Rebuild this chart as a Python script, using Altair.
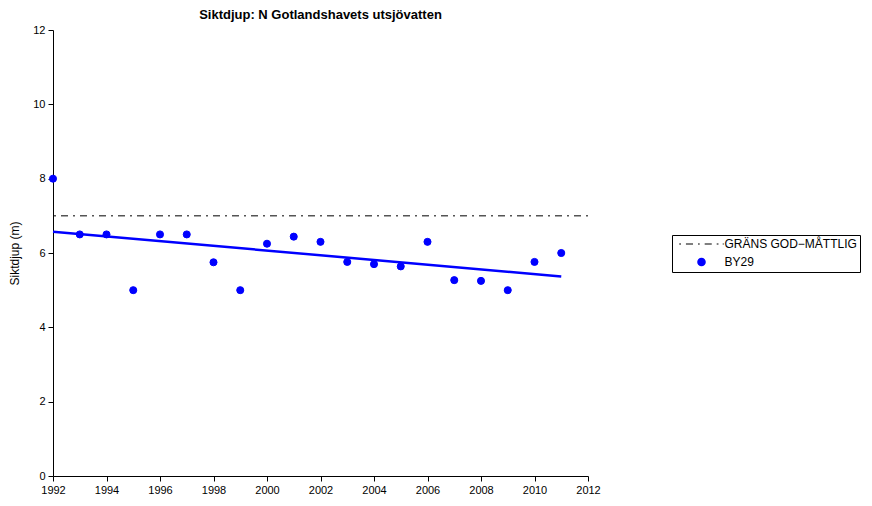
import altair as alt
import pandas as pd

years = list(range(1992, 2012))
sikt = [8.0, 6.5, 6.5, 5.0, 6.5, 6.5, 5.75, 5.0, 6.25, 6.44,
        6.3, 5.76, 5.7, 5.64, 6.3, 5.27, 5.25, 5.0, 5.76, 6.0]
station = "BY29"
grans_label = "GRÄNS GOD−MÅTTLIG"
grans_value = 7.0
x_ticks = list(range(1992, 2013, 2))
y_ticks = list(range(0, 13, 2))

df = pd.DataFrame({"year": years, "sikt": sikt, "serie": station})
ref = pd.DataFrame({"y": [grans_value]})

FONT = "Liberation Sans"
GRAY = "#555555"
BLUE = "#0000ff"

# dash-dot legend glyph as an SVG path (units scaled by sqrt(size)/2)
dashdot_path = ("M-6.3,0H-5.8M-4.4,0H-2.4M-1.0,0H-0.5"
                "M0.9,0H2.9M4.3,0H4.8M6.0,0H6.3")

dom = [grans_label, station]
color_scale = alt.Scale(domain=dom, range=[GRAY, BLUE])
shape_scale = alt.Scale(domain=dom, range=[dashdot_path, "circle"])

legend = alt.Legend(
    title=None, orient="none", legendX=619, legendY=205,
    strokeColor="black", padding=3, cornerRadius=0, rowPadding=5,
    labelFont=FONT, labelFontSize=12, labelColor="black",
    symbolSize=50, symbolStrokeWidth=1.5, symbolOffset=20.5, labelOffset=17,
    symbolOpacity=1,
)

xenc = alt.X("year:Q", scale=alt.Scale(domain=[1992, 2012], nice=False),
             axis=alt.Axis(values=x_ticks, format="d", title=None, grid=False,
                           tickSize=5, labelPadding=3, labelFlush=False))
yenc = alt.Y("sikt:Q", scale=alt.Scale(domain=[0, 12], nice=False),
             axis=alt.Axis(values=y_ticks, title="Siktdjup (m)", grid=False,
                           tickSize=5, labelPadding=3, titlePadding=11,
                           labelFlush=False))

rule = alt.Chart(ref).mark_rule(strokeDash=[2, 5, 7, 5], strokeWidth=1.5,
                                color=GRAY).encode(
    y=alt.Y("y:Q", scale=alt.Scale(domain=[0, 12], nice=False)),
)

trend = alt.Chart(df).transform_regression("year", "sikt").mark_line(
    color=BLUE, strokeWidth=2.5
).encode(
    x=alt.X("year:Q"), y=alt.Y("sikt:Q"),
)

points = alt.Chart(df).mark_point(size=50, filled=True, opacity=1,
                                  strokeWidth=1).encode(
    x=xenc, y=yenc,
    fill=alt.Fill("serie:N", scale=color_scale, legend=legend),
    stroke=alt.Stroke("serie:N", scale=color_scale, legend=legend),
    shape=alt.Shape("serie:N", scale=shape_scale, legend=legend),
)

chart = alt.layer(rule, trend, points).properties(
    width=535, height=446,
    title=alt.Title("Siktdjup: N Gotlandshavets utsjövatten", font=FONT,
                    fontSize=13, fontWeight="bold", color="black", offset=2),
    autosize=alt.AutoSizeParams(type="none"),
    padding={"left": 45, "top": 22, "right": 276, "bottom": 22},
).configure_axis(
    domainColor="black", tickColor="black", labelColor="black", titleColor="black",
    labelFont=FONT, titleFont=FONT, labelFontSize=11, titleFontSize=12,
    titleFontWeight="normal", domainWidth=1, tickWidth=1,
).configure_view(stroke=None)

chart.save("out.html", embed_options={"renderer": "svg", "actions": False})
